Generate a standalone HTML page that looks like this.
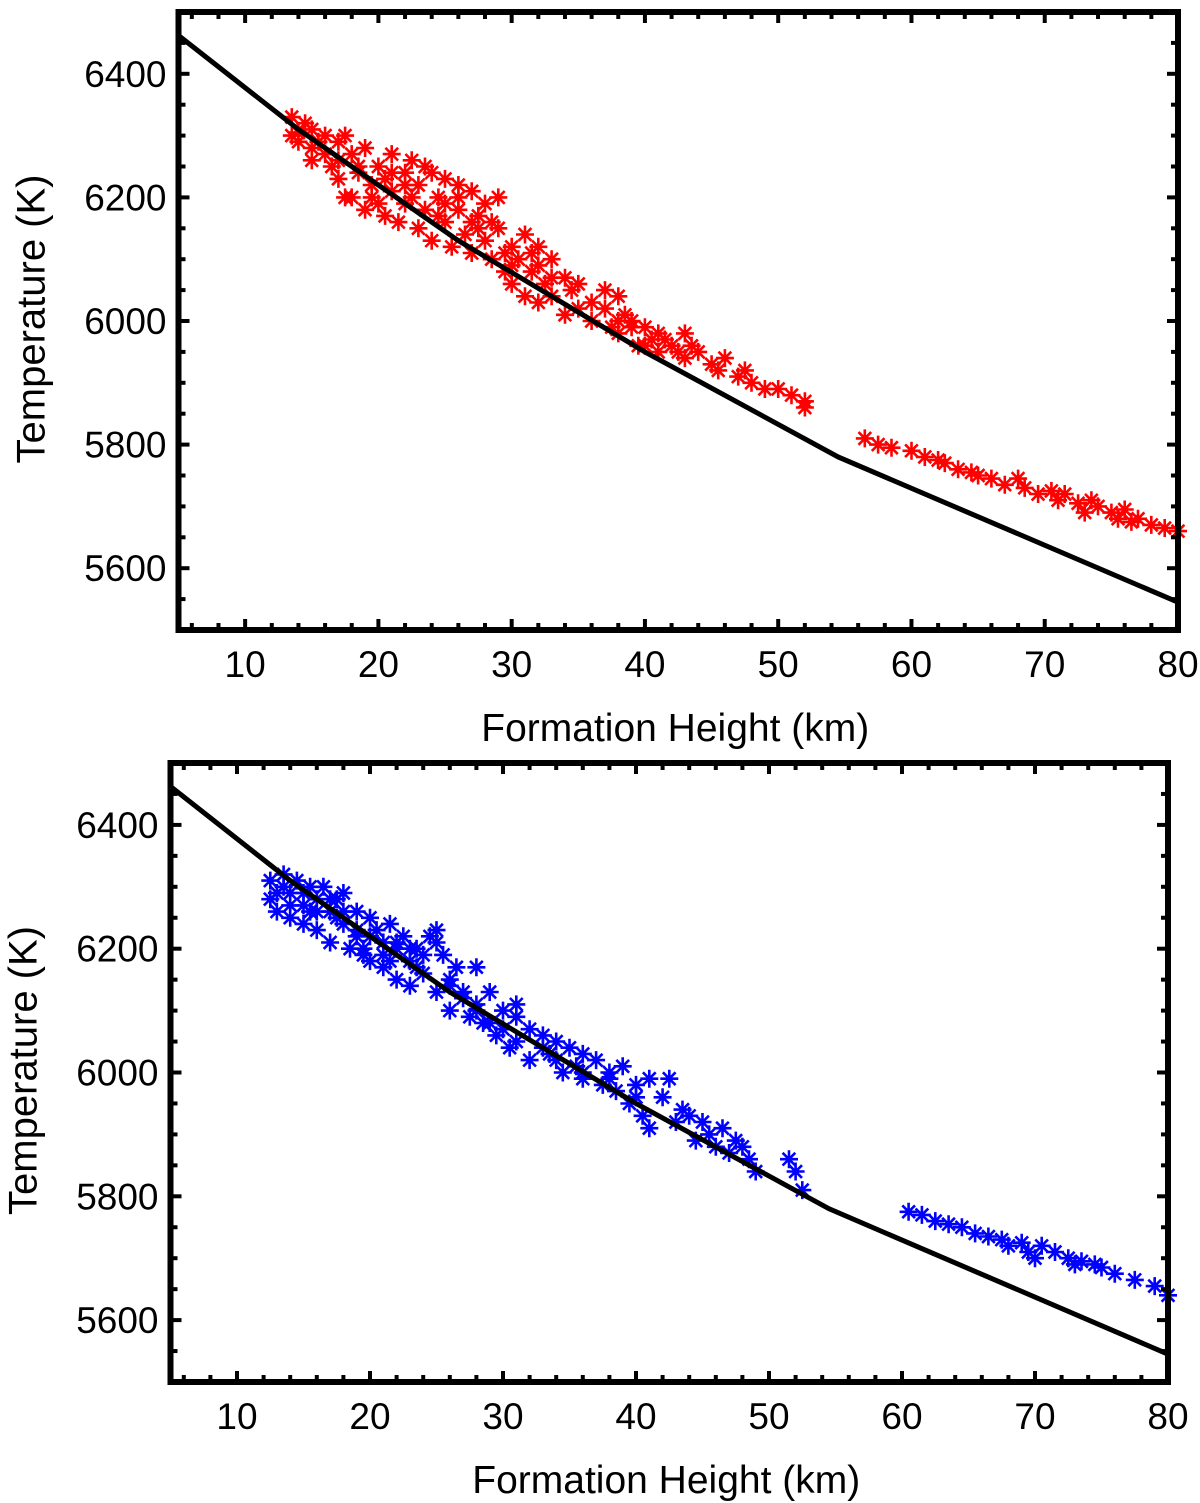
<!DOCTYPE html>
<html><head><meta charset="utf-8"><style>
html,body{margin:0;padding:0;background:#fff;}
svg{display:block;font-family:"Liberation Sans",Arial,sans-serif;}
</style></head><body>
<svg id="chart" width="1200" height="1503" viewBox="0 0 1200 1503" xmlns="http://www.w3.org/2000/svg"></svg>
<script>
const xTicks=[10,20,30,40,50,60,70,80];
const yTicks=[5600,5800,6000,6200,6400];
const modelX=[5,14,20,26,40,54.5,80];
const modelT=[6462,6310,6220,6130,5950,5780,5545];
const redX=[13.5,13.5,14,14.5,15,15,16,16,16.5,17,17,17.5,18,18,18.5,19,19,19.5,20,20,20.5,21,21,21.5,22,22,22.5,23,23,23.5,24,24,24.5,25,25,25.5,26,26,26.5,27,27,27.5,28,28,28.5,29,29,29.5,30,30,30.5,31,31,31.5,32,32,32.5,33,33,34,34,35,35,36,37,37,37.5,38,38,38.5,39,39.5,40,40.5,41,41,42,43,43,43.5,44,45,45.5,46,47,47.5,48,49,50,51,52,52,56.5,57.5,58.5,60,61,62,62.5,63.5,64.5,65,66,67,68,68.5,69.5,70.5,71,71.5,72.5,73,73.5,74,75,75.5,76,76.5,77,78,79,80,
14,15.5,17,18.5,19.5,21,22.5,23.5,24.5,26,27,28.5,30,31.5,33,34.5,36,39,41.5,42.5,15,17.5,20.5,22,25,27.5,29.5,32,38,40];
const redT=[6330,6300,6290,6320,6280,6310,6300,6270,6250,6290,6230,6300,6270,6200,6240,6280,6180,6220,6250,6190,6170,6270,6210,6160,6240,6190,6260,6220,6150,6180,6240,6130,6200,6230,6160,6120,6220,6180,6140,6210,6110,6170,6190,6130,6100,6200,6150,6080,6120,6060,6100,6140,6040,6080,6120,6030,6060,6100,6040,6070,6010,6060,6020,6000,6050,6020,5990,6040,5980,6010,6000,5960,5990,5970,5980,5950,5960,5980,5940,5960,5950,5930,5920,5940,5910,5920,5900,5890,5890,5880,5870,5860,5810,5800,5795,5790,5780,5775,5770,5760,5755,5750,5745,5735,5745,5730,5720,5725,5710,5720,5705,5690,5710,5700,5690,5680,5695,5675,5680,5670,5665,5660,
6305,6290,6260,6250,6200,6240,6200,6250,6170,6200,6160,6160,6090,6110,6070,6050,6030,5990,5970,5950,6260,6200,6230,6220,6190,6150,6110,6090,6000,5960];
const blueX=[12.5,12.5,13,13.5,14,14,14.5,15,15,15.5,16,16,16.5,17,17,17.5,18,18,18.5,19,19,19.5,20,20,20.5,21,21,21.5,22,22,22.5,23,23,23.5,24,24.5,25,25,25.5,26,26,26.5,27,27.5,28,28,28.5,29,29.5,30,30.5,31,31,32,32,33,33.5,34,34.5,35,35.5,36,36,37,37.5,38,38.5,39,39.5,40,40.5,41,41,42,42.5,43,43.5,44,44.5,45,45.5,46,46.5,47,47.5,48,48.5,49,51.5,52,52.5,60.5,61.5,62.5,63.5,64.5,65.5,66.5,67.5,68,69,69.5,70,70.5,71.5,72.5,73,73.5,74.5,75,76,77.5,79,80,
13,14,15,16,17,18,19,20,21,22,23,24,25,26,27,29,30,31,33,34,36,38,40,13.5,15.5,17.5,19.5,21.5,23.5,28];
const blueT=[6310,6280,6260,6320,6250,6290,6310,6270,6240,6300,6280,6230,6300,6260,6210,6280,6240,6290,6200,6260,6220,6190,6250,6180,6230,6210,6170,6240,6200,6150,6220,6180,6140,6200,6160,6220,6230,6130,6190,6150,6100,6170,6130,6090,6170,6110,6080,6130,6060,6100,6040,6110,6050,6070,6020,6060,6030,6050,6000,6040,6010,6030,5990,6020,5980,6000,5970,6010,5950,5980,5930,5990,5910,5960,5990,5920,5940,5930,5890,5920,5900,5880,5910,5870,5890,5880,5860,5840,5860,5840,5810,5775,5770,5760,5755,5750,5740,5735,5730,5720,5725,5710,5700,5720,5710,5700,5690,5695,5690,5685,5675,5665,5655,5640,
6290,6270,6290,6260,6280,6260,6230,6220,6190,6210,6200,6190,6210,6140,6120,6080,6070,6090,6040,6020,6000,5990,5960,6300,6260,6250,6200,6180,6170,6100];

const NS='http://www.w3.org/2000/svg';
const svg=document.getElementById('chart');
function mk(tag,attrs,parent){const e=document.createElementNS(NS,tag);for(const k in attrs)e.setAttribute(k,attrs[k]);(parent||svg).appendChild(e);return e;}

function panel(p){
  const g=mk('g',{});
  
  
  const sx=v=>p.L+(v-5)/75*(p.R-p.L);
  const sy=v=>p.B-(v-5500)/1000*(p.B-p.T);
  const sg=mk('g',{'clip-path':'url(#'+p.clip+')'},g);
  
  
  for(let i=0;i<p.xs.length;i++){
    const cx=sx(p.xs[i]),cy=sy(p.ys[i]),r=9;let d='';
    for(let k=0;k<4;k++){const a=Math.PI/2+k*Math.PI/4;const dx=r*Math.cos(a),dy=r*Math.sin(a);d+=`M${(cx-dx).toFixed(1)},${(cy-dy).toFixed(1)}L${(cx+dx).toFixed(1)},${(cy+dy).toFixed(1)}`;}
    const s=mk('path',{d:d,stroke:p.color,'stroke-width':2.6,fill:'none'},sg);
    
    
  }
  const pts=modelX.map((x,i)=>sx(x)+','+sy(modelT[i])).join(' ');
  const ln=mk('polyline',{points:pts,fill:'none',stroke:'#000','stroke-width':5,'clip-path':'url(#'+p.clip+')'},g);
  
  
  const tg=mk('g',{stroke:'#000'},g);
  
  
  for(let v=6;v<=80;v+=2){const x=sx(v);const maj=v%10===0;const len=maj?11:7;
    mk('line',{x1:x,x2:x,y1:p.B,y2:p.B-len,'stroke-width':4},tg);
    mk('line',{x1:x,x2:x,y1:p.T,y2:p.T+len,'stroke-width':4},tg);}
  for(let v=5550;v<=6450;v+=50){const y=sy(v);const maj=v%200===0;const len=maj?11:7;
    mk('line',{x1:p.L,x2:p.L+len,y1:y,y2:y,'stroke-width':4},tg);
    mk('line',{x1:p.R,x2:p.R-len,y1:y,y2:y,'stroke-width':4},tg);}
  const fr=mk('rect',{x:p.L,y:p.T,width:p.R-p.L,height:p.B-p.T,fill:'none',stroke:'#000','stroke-width':6},g);
  
  
  xTicks.forEach(v=>{const t=mk('text',{x:sx(v),y:p.B+47,'font-size':37,'text-anchor':'middle'},g);t.textContent=v;
    });
  yTicks.forEach(v=>{const t=mk('text',{x:p.L-12,y:sy(v)+13,'font-size':37,'text-anchor':'end'},g);t.textContent=v;
    });
  const xt=mk('text',{x:(p.L+p.R)/2-3,y:p.B+111,'font-size':39,'text-anchor':'middle'},g);xt.textContent='Formation Height (km)';
  
  const yx=p.L-134,yy=(p.T+p.B)/2-2;
  const yt=mk('text',{x:yx,y:yy,'font-size':40,'text-anchor':'middle',transform:`rotate(-90 ${yx} ${yy})`},g);yt.textContent='Temperature (K)';
  
}
const defs=mk('defs',{});
const c1=mk('clipPath',{id:'c1'},defs);mk('rect',{x:178,y:12,width:1010,height:618},c1);
const c2=mk('clipPath',{id:'c2'},defs);mk('rect',{x:170,y:763,width:1008,height:619},c2);
panel({name:'top-panel',seriesName:'red-series',L:178.5,R:1178,T:12,B:630,xs:redX,ys:redT,color:'#ff0000',clip:'c1'});
panel({name:'bottom-panel',seriesName:'blue-series',L:170.5,R:1168,T:763,B:1382,xs:blueX,ys:blueT,color:'#0000ff',clip:'c2'});
</script>
</body></html>
